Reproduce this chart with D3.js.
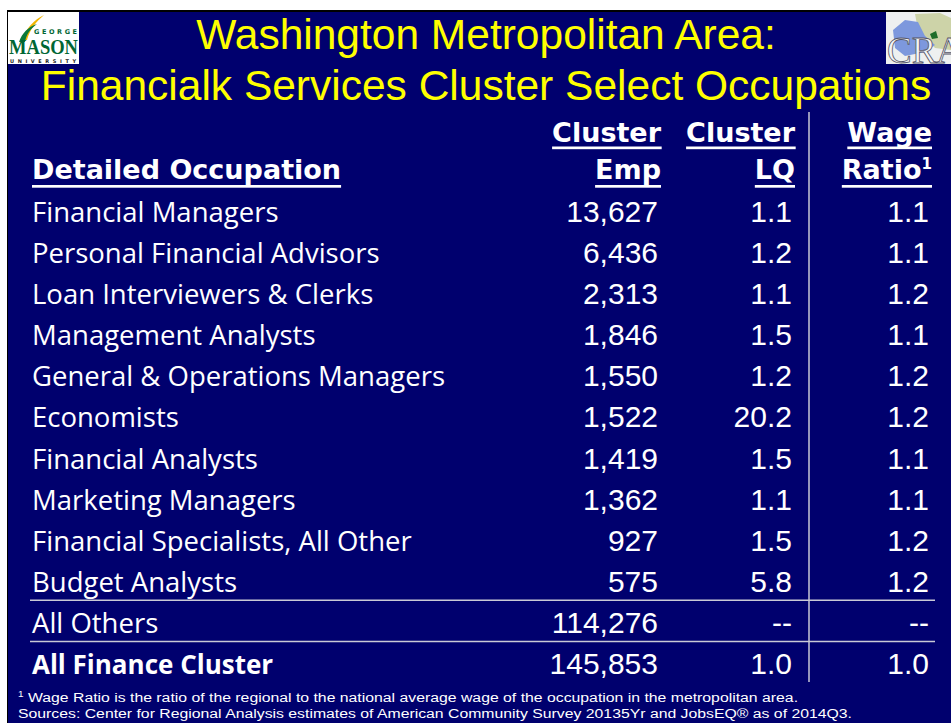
<!DOCTYPE html>
<html>
<head>
<meta charset="utf-8">
<script src="https://cdn.jsdelivr.net/npm/d3@7"></script>
<style>
  html, body { margin: 0; padding: 0; background: #fff; }
  svg { display: block; }
</style>
</head>
<body>
<svg id="slide"></svg>
<script>
var width = 951, height = 723;

// table data
var occupations = [
  "Financial Managers",
  "Personal Financial Advisors",
  "Loan Interviewers & Clerks",
  "Management Analysts",
  "General & Operations Managers",
  "Economists",
  "Financial Analysts",
  "Marketing Managers",
  "Financial Specialists, All Other",
  "Budget Analysts",
  "All Others",
  "All Finance Cluster"
];
var clusterEmp = [13627, 6436, 2313, 1846, 1550, 1522, 1419, 1362, 927, 575, 114276, 145853];
var clusterLQ = [1.1, 1.2, 1.1, 1.5, 1.2, 20.2, 1.5, 1.1, 1.5, 5.8, null, 1.0];
var wageRatio = [1.1, 1.1, 1.2, 1.1, 1.2, 1.2, 1.1, 1.1, 1.2, 1.2, null, 1.0];
var totalRows = ["All Finance Cluster"];

var titleLines = ["Washington Metropolitan Area:", "Financialk Services Cluster Select Occupations"];
var headers = [
  ["", "Detailed Occupation"],
  ["Cluster", "Emp"],
  ["Cluster", "LQ"],
  ["Wage", "Ratio"]
];
var footnotes = [
  "Wage Ratio is the ratio of the regional to the national average wage of the occupation in the metropolitan area.",
  "Sources: Center for Regional Analysis estimates of American Community Survey 20135Yr and JobsEQ\u00ae as of 2014Q3."
];

var navy = "#00006e";
var labelFont = "'Open Sans', Lato, sans-serif";
var headFont = "'DejaVu Sans', sans-serif";
var numFont = "'Liberation Sans', Arial, sans-serif";

var svg = d3.select("#slide").attr("width", width).attr("height", height);

// slide background + frame
svg.append("rect").attr("x", 7).attr("y", 10).attr("width", width - 7).attr("height", height - 10).attr("fill", "#000");
svg.append("rect").attr("x", 8).attr("y", 12).attr("width", width - 8).attr("height", height - 12).attr("fill", navy);

// --- GMU logo (rough) ---
var gmu = svg.append("g");
gmu.append("rect").attr("x", 8).attr("y", 12).attr("width", 71).attr("height", 52).attr("fill", "#fff");
gmu.append("path").attr("d", "M22,40 C26,28 34,20 44,15 C36,22 30,29 27,40 Z").attr("fill", "#f2b600");
gmu.append("path").attr("d", "M19,42 C22,33 28,27 37,24 C30,29 26,35 25,42 Z").attr("fill", "#0a7a3a");
gmu.append("text").attr("x", 34).attr("y", 34).attr("font-family", headFont)
  .attr("font-weight", "bold").attr("font-size", 6.5).attr("textLength", 43).attr("fill", "#006633").text("GEORGE");
gmu.append("text").attr("x", 9).attr("y", 53.5).attr("font-family", "'Liberation Serif', serif")
  .attr("font-weight", "bold").attr("font-size", 21).attr("textLength", 69).attr("lengthAdjust", "spacingAndGlyphs")
  .attr("fill", "#006633").text("MASON");
gmu.append("text").attr("x", 10).attr("y", 62.5).attr("font-family", headFont)
  .attr("font-weight", "bold").attr("font-size", 5).attr("textLength", 66).attr("fill", "#222").text("UNIVERSITY");

// --- CRA logo (rough) ---
svg.append("clipPath").attr("id", "craClip").append("rect")
  .attr("x", 886).attr("y", 12).attr("width", 65).attr("height", 52);
var cra = svg.append("g").attr("clip-path", "url(#craClip)");
cra.append("rect").attr("x", 886).attr("y", 12).attr("width", 65).attr("height", 52).attr("fill", "#eef0f0");
cra.append("path").attr("d", "M915,14 L940,13 L951,18 L951,50 L935,48 L925,38 L918,30 Z").attr("fill", "#cdd3a8");
cra.append("path").attr("d", "M893,30 L905,20 L918,22 L925,36 L935,45 L925,52 L905,56 L895,48 Z").attr("fill", "#7d98dd");
cra.append("path").attr("d", "M930,34 L936,31 L938,38 L932,39 Z").attr("fill", "#1f6d2a");
cra.append("text").attr("x", 887).attr("y", 63).attr("font-family", "'Liberation Serif', serif")
  .attr("font-size", 37).attr("fill", "#f4f4f4").attr("stroke", "#556").attr("stroke-width", 0.8).text("CRA");

// --- title ---
svg.selectAll(".title").data(titleLines).enter().append("text")
  .attr("class", "title")
  .attr("x", 486)
  .attr("y", function(d, i) { return 49 + i * 51; })
  .attr("text-anchor", "middle")
  .attr("font-family", numFont)
  .attr("font-size", 42.5)
  .attr("fill", "#ffff00")
  .text(function(d) { return d; });

// --- table scales ---
var rowIdx = d3.range(occupations.length);
var y = d3.scalePoint().domain(rowIdx).range([222, 674]);
var colRight = d3.scaleOrdinal().domain(["label", "emp", "lq", "wage"]).range([32, 661, 795, 932]);
var fmtEmp = d3.format(",");
var fmtRatio = d3.format(".1f");

// grid lines
var gridColor = "#c9c9d6";
svg.append("line").attr("x1", 809).attr("x2", 809).attr("y1", 112).attr("y2", 682)
  .attr("stroke", gridColor).attr("stroke-width", 1.5);
[10, 11].forEach(function(r) {
  var yy = (y(r - 1) + y(r)) / 2 - 12;
  svg.append("line").attr("x1", 30).attr("x2", 935).attr("y1", yy).attr("y2", yy)
    .attr("stroke", gridColor).attr("stroke-width", 1.5);
});

// headers
var colKeys = ["label", "emp", "lq", "wage"];
var headRows = [142, 179];
var underlineY = [146.5, 185];
headers.forEach(function(h, c) {
  h.forEach(function(txt, r) {
    if (!txt) return;
    var t = svg.append("text")
      .attr("x", colRight(colKeys[c]))
      .attr("y", headRows[r])
      .attr("text-anchor", c === 0 ? "start" : "end")
      .attr("font-family", headFont)
      .attr("font-weight", "bold")
      .attr("font-size", 27)
      .attr("fill", "#fff")
      .text(txt);
    if (c === 3 && r === 1) {
      t.append("tspan").attr("font-size", 15).attr("dy", -10).text("1");
    }
    var bb = t.node().getBBox();
    svg.append("rect")
      .attr("x", bb.x).attr("y", underlineY[r])
      .attr("width", bb.width).attr("height", 2.7)
      .attr("fill", "#fff");
  });
});

// body rows
var rows = svg.selectAll(".row").data(rowIdx).enter().append("g").attr("class", "row");
function isTotal(i) { return totalRows.indexOf(occupations[i]) >= 0; }

rows.append("text")
  .attr("x", colRight("label"))
  .attr("y", function(i) { return y(i); })
  .attr("font-family", labelFont)
  .attr("font-size", function(i) { return isTotal(i) ? 26 : 27.5; })
  .attr("font-weight", function(i) { return isTotal(i) ? "bold" : "normal"; })
  .attr("fill", "#fff")
  .text(function(i) { return occupations[i]; });

function numCell(key, values, fmt) {
  rows.append("text")
    .attr("x", colRight(key) - 3)
    .attr("y", function(i) { return y(i); })
    .attr("text-anchor", "end")
    .attr("font-family", numFont)
    .attr("font-size", 30)
    .attr("fill", "#fff")
    .text(function(i) { return values[i] == null ? "--" : fmt(values[i]); });
}
numCell("emp", clusterEmp, fmtEmp);
numCell("lq", clusterLQ, fmtRatio);
numCell("wage", wageRatio, fmtRatio);

// footnotes (the slide's small print is horizontally stretched)
var footStretch = 1.17;
var foot = svg.append("text")
  .attr("transform", "translate(18,702) scale(" + footStretch + ",1)")
  .attr("font-family", numFont).attr("font-size", 13.5).attr("fill", "#fff");
foot.append("tspan").attr("font-size", 8.5).attr("dy", -5).text("1");
foot.append("tspan").attr("dy", 5).text(" " + footnotes[0]);
svg.append("text")
  .attr("transform", "translate(18,718) scale(" + footStretch + ",1)")
  .attr("font-family", numFont).attr("font-size", 13.5).attr("fill", "#fff")
  .text(footnotes[1]);
</script>
</body>
</html>
